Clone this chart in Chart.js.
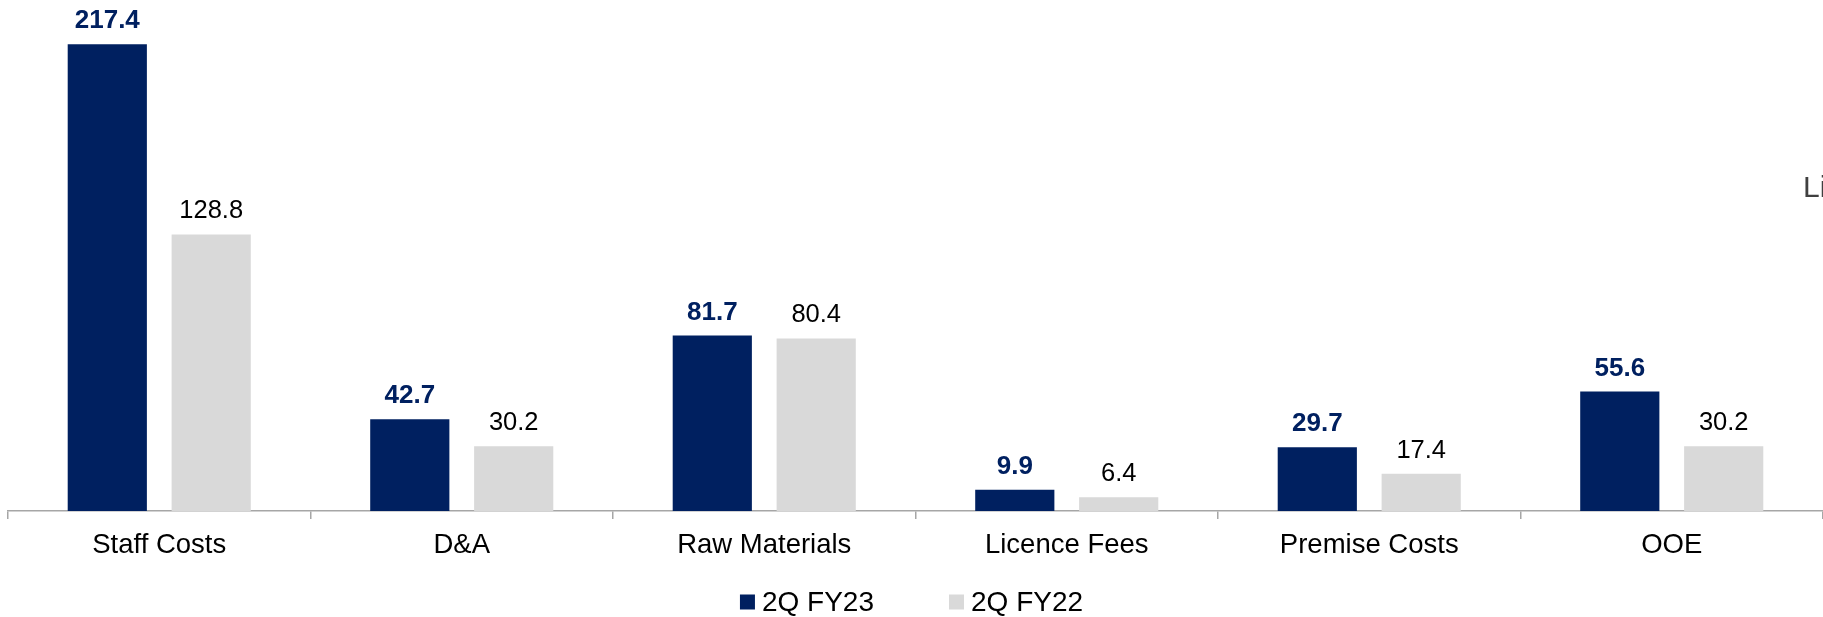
<!DOCTYPE html>
<html>
<head>
<meta charset="utf-8">
<script src="https://cdn.jsdelivr.net/npm/chart.js@4.4.1/dist/chart.umd.min.js"></script>
<style>
  html, body { margin: 0; padding: 0; background: #fff; overflow: hidden; }
  #wrap { width: 1823px; height: 617px; position: relative; }
</style>
</head>
<body>
<div id="wrap"><canvas id="barChart" width="1823" height="617"></canvas></div>
<script>
const categories = ["Staff Costs", "D&A", "Raw Materials", "Licence Fees", "Premise Costs", "OOE"];
const fy23 = [217.4, 42.7, 81.7, 9.9, 29.7, 55.6];
const fy22 = [128.8, 30.2, 80.4, 6.4, 17.4, 30.2];
const seriesNames = ["2Q FY23", "2Q FY22"];

const NAVY = "#002060";
const GREY = "#D9D9D9";
const FONT = "'Liberation Sans', Arial, sans-serif";

// value labels above the bars
const valueLabels = {
    id: "valueLabels",
    afterDatasetsDraw(chart) {
        const ctx = chart.ctx;
        ctx.save();
        ctx.textAlign = "center";
        ctx.textBaseline = "alphabetic";
        chart.data.datasets.forEach((ds, i) => {
            const meta = chart.getDatasetMeta(i);
            ctx.font = i === 0 ? "bold 26px " + FONT : "25.5px " + FONT;
            ctx.fillStyle = i === 0 ? NAVY : "#000000";
            meta.data.forEach((bar, j) => {
                ctx.fillText(ds.data[j].toFixed(1), bar.x, bar.y - 16);
            });
        });
        ctx.restore();
    },
};

// legend drawn below the axis, centred on the canvas
const bottomLegend = {
    id: "bottomLegend",
    afterDraw(chart) {
        const ctx = chart.ctx;
        const box = 15, gap = 7, spacing = 75, y = 602;
        ctx.save();
        ctx.font = "28px " + FONT;
        ctx.textBaseline = "middle";
        ctx.textAlign = "left";
        const items = chart.data.datasets.map(ds => ({
            text: ds.label,
            color: ds.backgroundColor,
            w: box + gap + ctx.measureText(ds.label).width,
        }));
        const total = items.reduce((s, it) => s + it.w, 0) + spacing * (items.length - 1);
        let x = chart.width / 2 - total / 2;
        items.forEach(it => {
            ctx.fillStyle = it.color;
            ctx.fillRect(x, y - box / 2, box, box);
            ctx.fillStyle = "#000000";
            ctx.fillText(it.text, x + box + gap, y + 1);
            x += it.w + spacing;
        });
        ctx.restore();
    },
};

// clipped text at the right edge of the slide
const edgeText = {
    id: "edgeText",
    afterDraw(chart) {
        const ctx = chart.ctx;
        ctx.save();
        ctx.font = "30px " + FONT;
        ctx.fillStyle = "#404040";
        ctx.textAlign = "left";
        ctx.fillText("Li", 1803, 197);
        ctx.restore();
    },
};

const barCtx = document.getElementById("barChart").getContext("2d");
new Chart(barCtx, {
    type: "bar",
    data: {
        labels: categories,
        datasets: [
            {
                label: seriesNames[0],
                data: fy23,
                backgroundColor: NAVY,
                categoryPercentage: 0.687,
                barPercentage: 0.762,
            },
            {
                label: seriesNames[1],
                data: fy22,
                backgroundColor: GREY,
                categoryPercentage: 0.687,
                barPercentage: 0.762,
            },
        ],
    },
    options: {
        responsive: false,
        animation: false,
        layout: {
            padding: { left: 8, right: -20, top: 0, bottom: 45 },
        },
        plugins: {
            tooltip: { enabled: false },
            legend: { display: false },
        },
        scales: {
            x: {
                grid: {
                    offset: true,
                    drawOnChartArea: false,
                    tickLength: 8,
                    color: "#A6A6A6",
                    lineWidth: 1.5,
                },
                border: { color: "#A6A6A6", width: 1.5 },
                ticks: {
                    color: "#000000",
                    font: { family: FONT, size: 27.5 },
                    padding: 10,
                    maxRotation: 0,
                },
            },
            y: {
                display: false,
                min: 0,
                max: 238,
            },
        },
    },
    plugins: [valueLabels, bottomLegend, edgeText],
});
</script>
</body>
</html>
